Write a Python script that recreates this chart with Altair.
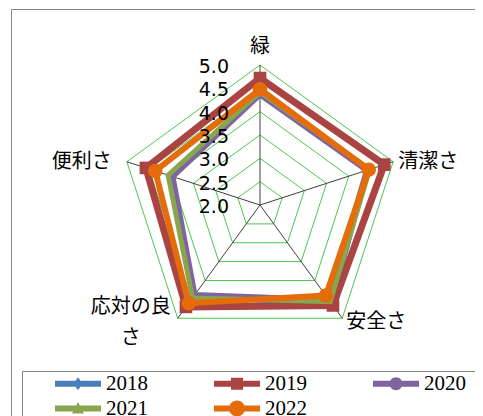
import altair as alt
import pandas as pd

categories = ["緑", "清潔さ", "安全さ", "応対の良さ", "便利さ"]
years = ["2018", "2019", "2020", "2021", "2022"]
v2018 = [4.38, 4.42, 4.62, 4.43, 4.01]
v2019 = [4.72, 4.80, 4.66, 4.70, 4.57]
v2020 = [4.36, 4.40, 4.50, 4.37, 3.96]
v2021 = [4.42, 4.47, 4.56, 4.46, 4.07]
v2022 = [4.48, 4.45, 4.40, 4.60, 4.36]
levels = [2.0, 2.5, 3.0, 3.5, 4.0, 4.5, 5.0]
level_labels = ["2.0", "2.5", "3.0", "3.5", "4.0", "4.5", "5.0"]
colors = ["#4A7EBB", "#A94442", "#7E64A0", "#89A54E", "#E46C0A"]

VMIN, VMAX = 2.0, 5.0
N = len(categories)

series = {"2018": v2018, "2019": v2019, "2020": v2020, "2021": v2021, "2022": v2022}
rows = []
for y in years:
    for i, c in enumerate(categories):
        rows.append({"year": y, "cat": c, "idx": i, "value": series[y][i]})
series_df = pd.DataFrame(rows)

grid_df = pd.DataFrame([{"level": lv, "idx": i, "value": lv}
                        for lv in levels[1:] for i in range(N)])
spoke_df = pd.DataFrame([{"cat": c, "idx": i, "value": VMAX, "value2": VMIN}
                         for i, c in enumerate(categories)])
tick_df = pd.DataFrame([{"label": l, "idx": 0, "value": v}
                        for v, l in zip(levels, level_labels)])
cat_df = pd.DataFrame([{"cat": c, "idx": i, "value": VMAX}
                       for i, c in enumerate(categories)])

def polar(chart, vfield="value", xo="x", yo="y"):
    r = f"((datum.{vfield} - {VMIN}) / ({VMAX} - {VMIN}))"
    a = f"(2 * PI * datum.idx / {N})"
    return chart.transform_calculate(**{xo: f"{r} * sin({a})", yo: f"{r} * cos({a})"})

PX = 140.0
W, H = 464, 407
CX, CY = 249.0, 196.0
xs = alt.Scale(domain=[-CX / PX, (W - CX) / PX], nice=False, zero=False)
ys = alt.Scale(domain=[-(H - CY) / PX, CY / PX], nice=False, zero=False)
frame_axis = dict(domain=True, domainColor="#868686", domainWidth=1, ticks=False,
                  labels=False, grid=False, title=None)
X = alt.X("x:Q", scale=xs, axis=alt.Axis(orient="top", **frame_axis))
Y = alt.Y("y:Q", scale=ys, axis=alt.Axis(orient="left", **frame_axis))

cjk = "Noto Sans CJK JP"

grid = polar(alt.Chart(grid_df)).mark_line(
    interpolate="linear-closed", color="#4CC84C", strokeWidth=1
).encode(x=X, y=Y, detail="level:N", order="idx:Q")

spokes = polar(polar(alt.Chart(spoke_df)), "value2", "x2", "y2").mark_rule(
    color="#404040", strokeWidth=1
).encode(x=X, y=Y, x2="x2:Q", y2="y2:Q")

color_main = alt.Color("year:N", scale=alt.Scale(domain=years, range=colors), legend=None)
shape_main = alt.Shape("year:N", scale=alt.Scale(domain=years,
                       range=["diamond", "square", "circle", "triangle-up", "circle"]), legend=None)
line_w = {"2018": 5, "2019": 7, "2020": 5, "2021": 5, "2022": 6}
marker_size = {"2018": 110, "2019": 160, "2022": 210}

series_layers = []
for y in years:
    base = polar(alt.Chart(series_df).transform_filter(f"datum.year == '{y}'"))
    series_layers.append(base.mark_line(interpolate="linear-closed", strokeWidth=line_w[y],
                                        strokeJoin="miter").encode(
        x=X, y=Y, color=color_main, order="idx:Q"))
    if y in marker_size:
        series_layers.append(base.mark_point(filled=True, opacity=1, size=marker_size[y]).encode(
            x=X, y=Y, color=color_main, shape=shape_main))

ticks = polar(alt.Chart(tick_df)).mark_text(
    align="right", baseline="middle", dx=-31, dy=2, font="DejaVu Sans", fontSize=19, color="black"
).encode(x=X, y=Y, text="label:N")

label_specs = [
    (0, dict(align="center", baseline="middle", dx=0, dy=-18)),
    (1, dict(align="left", baseline="middle", dx=5, dy=0)),
    (2, dict(align="left", baseline="middle", dx=4, dy=4)),
    (3, dict(align="center", baseline="middle", dx=-47, dy=-11, lineBreak="\n", lineHeight=31)),
    (4, dict(align="right", baseline="middle", dx=-15, dy=0)),
]
cat_layers = []
for i, kw in label_specs:
    cat_layers.append(polar(alt.Chart(cat_df).transform_filter(f"datum.idx == {i}")).transform_calculate(
        txt="replace(datum.cat, '応対の良さ', '応対の良\\nさ')").mark_text(
        font=cjk, fontSize=20, color="black", **kw).encode(x=X, y=Y, text="txt:N"))

def circ(r):
    return f"M{-r},0 A{r},{r} 0 1,1 {r},0 A{r},{r} 0 1,1 {-r},0 Z"
bar = "M-2.3,-0.3 H2.3 V0.3 H-2.3 Z "
legend_paths = [
    bar + "M0,-0.65 L0.45,0 L0,0.65 L-0.45,0 Z",
    bar + "M-0.6,-0.6 H0.6 V0.6 H-0.6 Z",
    bar + circ(0.65),
    bar + "M0,-0.65 L0.6,0.5 L-0.6,0.5 Z",
    bar + circ(0.8),
]
leg = dict(orient="none", legendX=11, legendY=362, columns=3, direction="horizontal",
           title="\u00a0", titleOrient="right", titlePadding=30, titleFontSize=10,
           labelFont="Liberation Sans Narrow", labelFontSize=21, labelColor="black",
           symbolSize=400, symbolOffset=43.5, labelOffset=17.5, columnPadding=35,
           rowPadding=3, padding=2, strokeColor="#868686", gridAlign="all",
           symbolStrokeWidth=0)
legend_layer = polar(alt.Chart(series_df).transform_filter("false")).mark_point(
    filled=True, opacity=1, size=400).encode(
    x=X, y=Y,
    color=alt.Color("year:N", scale=alt.Scale(domain=years, range=colors), legend=alt.Legend(**leg)),
    shape=alt.Shape("year:N", scale=alt.Scale(domain=years, range=legend_paths), legend=alt.Legend(**leg)),
)

chart = alt.layer(grid, spokes, *series_layers, ticks, *cat_layers, legend_layer).resolve_scale(
    color="independent", shape="independent"
).properties(width=W, height=H, padding={"left": 3, "top": 1, "right": 0, "bottom": 0},
             autosize=alt.AutoSizeParams(type="none")
).configure_view(stroke=None)

chart.save("out.html", embed_options={"renderer": "svg", "actions": False})
